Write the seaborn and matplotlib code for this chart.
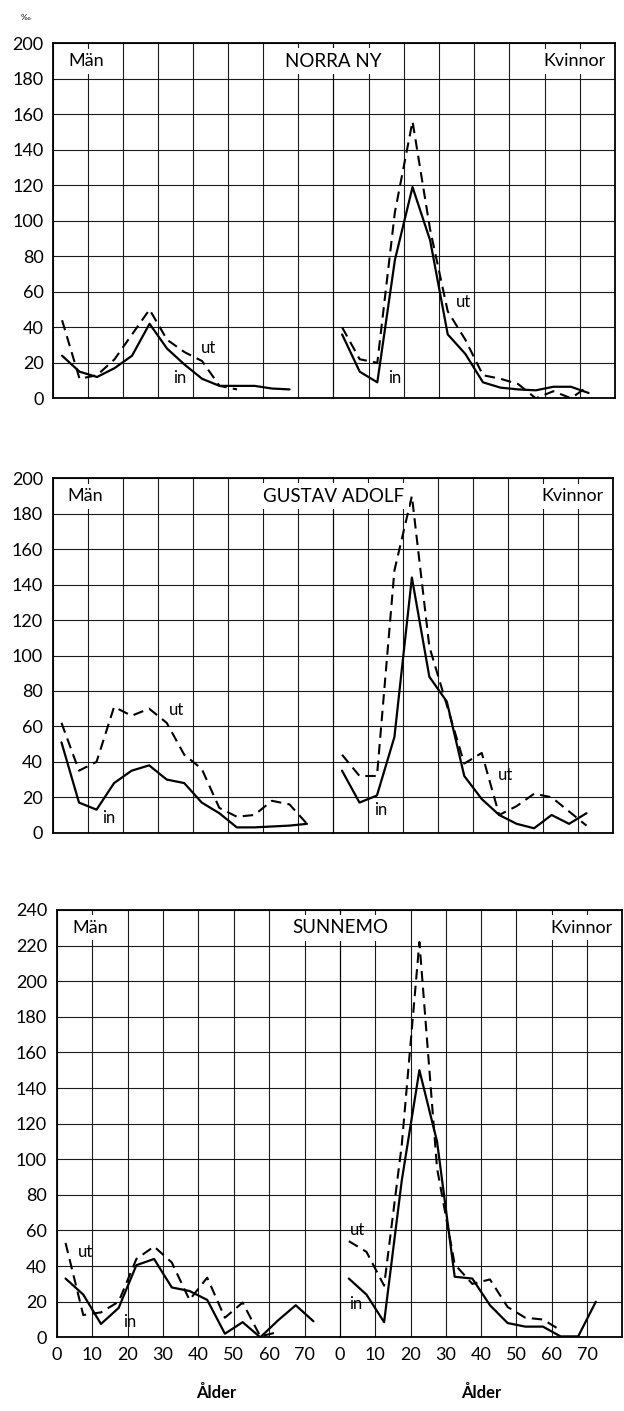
import matplotlib
matplotlib.use("Agg")
import matplotlib.pyplot as plt
import seaborn as sns

# Age-group midpoints (5-year groups)
AGES = [2.5, 7.5, 12.5, 17.5, 22.5, 27.5, 32.5, 37.5, 42.5, 47.5, 52.5, 57.5, 62.5, 67.5, 72.5]
X_TICKS = [0, 10, 20, 30, 40, 50, 60, 70]

# Migration rates per mille: "in" = in-migration, "ut" = out-migration
norra_man_in = [24, 15, 12, 17, 24, 42, 28, 19, 11, 7, 7, 7, 5.5, 5]
norra_man_ut = [44, 11, 13, 22, 36, 50, 33, 26, 21, 7, 5]
norra_kv_in = [36, 15, 9, 78, 119, 89, 36, 25, 9, 6, 5, 4.5, 6.5, 6.5, 3]
norra_kv_ut = [40, 22, 20, 105, 156, 95, 49, 33, 13, 11, 8, 0, 4, 0, 7]

gustav_man_in = [51, 17, 13, 28, 35, 38, 30, 28, 17, 11, 3, 3, 3.5, 4, 5]
gustav_man_ut = [62, 35, 40, 71, 66, 70, 62, 44, 36, 14, 9, 10, 18, 16, 5]
gustav_kv_in = [35, 17, 21, 54, 144, 88, 74, 32, 19, 10, 5, 2.5, 10, 5, 11]
gustav_kv_ut = [44, 32, 32, 148, 190, 105, 72, 39, 45, 10, 15, 22, 20, 12, 4]

sunnemo_man_in = [33, 24, 7.5, 16.5, 40.5, 44, 28, 26, 21, 2, 8.5, 0, 9.5, 18, 9]
sunnemo_man_ut = [53, 12.5, 14, 20, 44, 51, 42, 21, 33.5, 11, 19.5, 0.5, 3]
sunnemo_kv_in = [33, 24, 8.5, 88, 150, 110, 34, 33, 18, 8, 6, 6, 0.5, 0.5, 20]
sunnemo_kv_ut = [54, 48, 29, 108, 222, 95, 41, 30, 32.5, 17, 11, 10, 4]

W, H = 624, 1411

sns.set_theme(style="white")
plt.rcParams["font.family"] = ["Lato", "DejaVu Sans"]
plt.rcParams["text.color"] = "black"

fig = plt.figure(figsize=(W / 100, H / 100), dpi=100)


def rect(left, top, right, bottom):
    return [left / W, 1 - bottom / H, (right - left) / W, (bottom - top) / H]


panels = [
    dict(title="NORRA NY", ymax=200, px=(53.3, 333.3, 615.0), py=(43.3, 398.3),
         man=(norra_man_in, norra_man_ut), kv=(norra_kv_in, norra_kv_ut),
         man_lbl=((36, 11.5), (44.4, 28.3)), kv_lbl=((17.5, 11.4), (37, 54))),
    dict(title="GUSTAV ADOLF", ymax=200, px=(52.7, 333.3, 612.7), py=(478.3, 832.7),
         man=(gustav_man_in, gustav_man_ut), kv=(gustav_kv_in, gustav_kv_ut),
         man_lbl=((16.1, 8.5), (35.2, 69.3)), kv_lbl=((13.5, 13), (49.4, 32.7))),
    dict(title="SUNNEMO", ymax=240, px=(56.7, 340.0, 622.3), py=(910.0, 1337.3),
         man=(sunnemo_man_in, sunnemo_man_ut), kv=(sunnemo_kv_in, sunnemo_kv_ut),
         man_lbl=((20.7, 8.4), (8.2, 47.8)), kv_lbl=((4.5, 18.5), (5.1, 60))),
]

# Chart-paper rulings sit just under the curves
GRID_KW = dict(colors="#1a1a1a", linewidths=0.8, zorder=2.7)
box = dict(facecolor="white", edgecolor="none", boxstyle="square,pad=0.25")


def draw_grid(ax):
    """Rule the chart paper in data coordinates along the axis ticks."""
    ax.grid(False)
    x0, x1 = ax.get_xlim()
    y0, y1 = ax.get_ylim()
    ax.vlines(ax.get_xticks(), y0, y1, **GRID_KW)
    ax.hlines(ax.get_yticks(), x0, x1, **GRID_KW)
    ax.set_xlim(x0, x1)
    ax.set_ylim(y0, y1)


for i, p in enumerate(panels):
    left, mid, right = p["px"]
    top, bottom = p["py"]
    ax_m = fig.add_axes(rect(left, top, mid, bottom))
    ax_k = fig.add_axes(rect(mid, top, right, bottom))
    last = i == len(panels) - 1

    for ax, (s_in, s_ut), lbl in ((ax_m, p["man"], p["man_lbl"]), (ax_k, p["kv"], p["kv_lbl"])):
        sns.lineplot(x=AGES[:len(s_in)], y=s_in, ax=ax, color="black", lw=1.6,
                     estimator=None, sort=False, zorder=3)
        sns.lineplot(x=AGES[:len(s_ut)], y=s_ut, ax=ax, color="black", lw=1.5,
                     estimator=None, sort=False, linestyle=(0, (5, 3)), zorder=3)

        ax.set_xlim(0, 80)
        ax.set_ylim(0, p["ymax"])
        ax.set_xticks(range(0, 81, 10))
        ax.set_yticks(range(0, p["ymax"] + 1, 20))
        draw_grid(ax)
        ax.tick_params(length=0, pad=7, labelsize=13, colors="black")
        for sp in ax.spines.values():
            sp.set_edgecolor("black")
            sp.set_linewidth(1.3)
            sp.set_zorder(2.8)

        ax.text(lbl[0][0], lbl[0][1], "in", fontsize=12, ha="center", va="center", zorder=4)
        ax.text(lbl[1][0], lbl[1][1], "ut", fontsize=12, ha="center", va="center", zorder=4)

        if last:
            ax.set_xticklabels([str(t) for t in X_TICKS] + [""])
        else:
            ax.set_xticklabels([])
        ax.set_xlabel("")
        ax.set_ylabel("")

    ax_m.spines["right"].set_visible(False)
    ax_k.spines["left"].set_linewidth(0.8)
    ax_k.set_yticklabels([])

    yrow = p["ymax"] - 10
    ax_m.text(4.3, yrow, "Män", fontsize=13, ha="left", va="center", bbox=box, zorder=5)
    ax_k.text(77.3, yrow, "Kvinnor", fontsize=13, ha="right", va="center", bbox=box, zorder=5)
    ax_k.text(0, yrow, p["title"], fontsize=13.5, ha="center", va="center",
              bbox=box, zorder=5, clip_on=False)

    if last:
        ax_m.text(45, -0.13, "Ålder", transform=ax_m.get_xaxis_transform(),
                  fontsize=12, fontweight="bold", ha="center", va="center")
        ax_k.text(40, -0.13, "Ålder", transform=ax_k.get_xaxis_transform(),
                  fontsize=12, fontweight="bold", ha="center", va="center")

fig.text(25 / W, 1 - 18 / H, "‰", fontsize=6, ha="center", va="center")

fig.savefig("out.png", dpi=100, facecolor="white")
